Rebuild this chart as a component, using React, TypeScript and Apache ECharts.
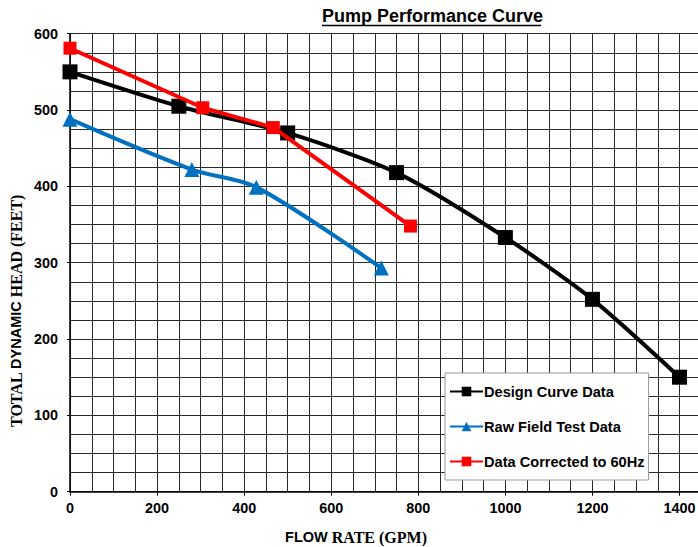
import React, { useEffect, useRef } from "react";
import * as echarts from "echarts";

const designFlow = [0, 250, 500, 750, 1000, 1200, 1400];
const designHead = [550, 505, 470, 418, 333, 252, 150];
const rawFlow = [0, 280, 428, 715];
const rawHead = [488, 422, 399, 293];
const corrFlow = [0, 305, 467, 782];
const corrHead = [581, 503, 477, 348];
const seriesNames = ["Design Curve Data", "Raw Field Test Data", "Data Corrected to 60Hz"];

const zip = (xs: number[], ys: number[]) => xs.map((x, i) => [x, ys[i]]);

export default function App() {
  const ref = useRef<HTMLDivElement>(null);
  useEffect(() => {
    if (!ref.current) return;
    const chart = echarts.init(ref.current, null, { renderer: "svg" });
    const gridColor = "#2a2a2a";
    const sans = "Arial, Liberation Sans";
    const serif = "Liberation Serif, Times New Roman";
    chart.setOption({
      animation: false,
      backgroundColor: "#fff",
      grid: { left: 70, top: 33.7, right: 23.4, bottom: 55.3, containLabel: false },
      xAxis: {
        type: "value",
        min: 0,
        max: 1600,
        interval: 200,
        axisLine: { show: true, lineStyle: { color: "#000", width: 1.5 } },
        axisTick: { show: true, length: 4, lineStyle: { color: "#000", width: 1 } },
        minorTick: { show: false, splitNumber: 4 },
        axisLabel: {
          formatter: (v: number) => (v <= 1400 ? String(v) : ""),
          fontFamily: sans,
          fontWeight: "bold",
          fontSize: 14.4,
          color: "#000",
          margin: 9,
        },
        splitLine: { show: true, lineStyle: { color: gridColor, width: 1 } },
        minorSplitLine: { show: true, lineStyle: { color: gridColor, width: 1 } },
      },
      yAxis: {
        type: "value",
        min: 0,
        max: 600,
        interval: 100,
        axisLine: { show: true, lineStyle: { color: "#000", width: 1.5 } },
        axisTick: { show: true, length: 3, lineStyle: { color: "#000", width: 1 } },
        minorTick: { show: false, splitNumber: 4 },
        axisLabel: {
          fontFamily: sans,
          fontWeight: "bold",
          fontSize: 14.4,
          color: "#000",
          margin: 12,
        },
        splitLine: { show: true, lineStyle: { color: gridColor, width: 1 } },
        minorSplitLine: { show: true, lineStyle: { color: gridColor, width: 1 } },
      },
      legend: {
        orient: "vertical",
        left: 445,
        top: 373,
        padding: [11, 4, 11, 4],
        itemGap: 20,
        itemWidth: 33,
        itemHeight: 12,
        backgroundColor: "#fff",
        borderColor: "#999",
        borderWidth: 1,
        data: seriesNames,
        textStyle: { fontFamily: sans, fontWeight: "bold", fontSize: 14.6, color: "#000", padding: [0, 0, 0, -4] },
      },
      graphic: [
        {
          type: "text",
          x: 322,
          y: 16,
          style: {
            text: "Pump Performance Curve",
            font: "bold 18px Arial, Liberation Sans",
            fill: "#000",
            align: "left",
            verticalAlign: "middle",
          },
        },
        {
          type: "line",
          shape: { x1: 322, y1: 25.5, x2: 541, y2: 25.5 },
          style: { stroke: "#000", lineWidth: 1.6 },
        },
        {
          type: "text",
          x: 356,
          y: 537,
          style: {
            text: "{a|FLOW }{t|RATE (GPM)}",
            align: "center",
            verticalAlign: "middle",
            rich: {
              t: { fontFamily: serif, fontWeight: "bold", fontSize: 16, fill: "#000" },
              a: { fontFamily: sans, fontWeight: "bold", fontSize: 14.5, fill: "#000" },
            },
          },
        },
        {
          type: "text",
          x: 16,
          y: 311,
          rotation: Math.PI / 2,
          style: {
            text: "{t|TOTAL }{a|DYNAMIC}{t| HEAD (FEET)}",
            align: "center",
            verticalAlign: "middle",
            rich: {
              t: { fontFamily: serif, fontWeight: "bold", fontSize: 16, fill: "#000" },
              a: { fontFamily: sans, fontWeight: "bold", fontSize: 14.5, fill: "#000" },
            },
          },
        },
      ],
      series: [
        {
          name: seriesNames[0],
          type: "line",
          data: zip(designFlow, designHead),
          smooth: 0.25,
          symbol: "rect",
          symbolSize: 15,
          lineStyle: { color: "#000", width: 4 },
          itemStyle: { color: "#000" },
          z: 3,
        },
        {
          name: seriesNames[1],
          type: "line",
          data: zip(rawFlow, rawHead),
          smooth: 0.3,
          symbol: "triangle",
          symbolSize: 15,
          lineStyle: { color: "#0070C0", width: 4 },
          itemStyle: { color: "#0070C0" },
          z: 4,
        },
        {
          name: seriesNames[2],
          type: "line",
          data: zip(corrFlow, corrHead),
          symbol: "rect",
          symbolSize: 13,
          lineStyle: { color: "#FF0000", width: 4 },
          itemStyle: { color: "#FF0000" },
          z: 5,
        },
      ],
    });
    return () => chart.dispose();
  }, []);
  return (
    <div style={{ position: "fixed", left: 0, top: 0, width: 698, height: 547, overflow: "hidden", background: "#fff" }}>
      <div ref={ref} style={{ width: 790, height: 547 }} />
    </div>
  );
}
